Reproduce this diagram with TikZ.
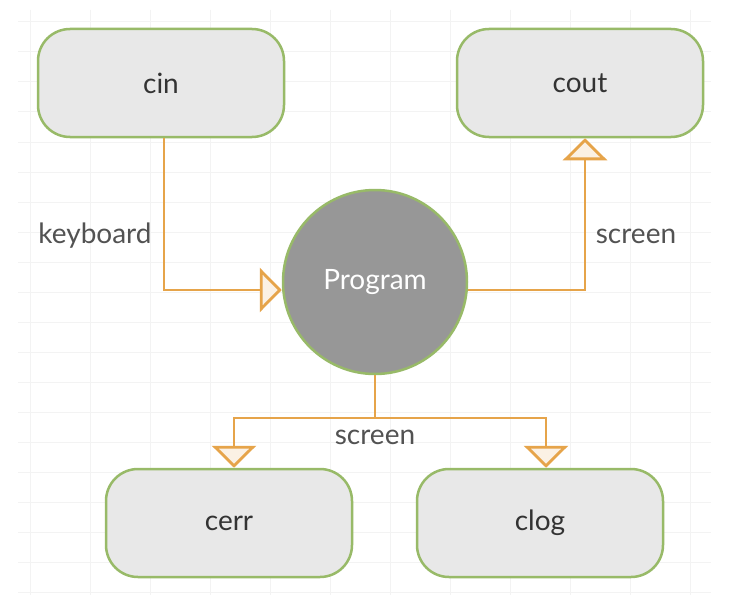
\documentclass[tikz,border=0pt]{standalone}
\usepackage{fontspec}
\setmainfont{Lato}
\usetikzlibrary{arrows.meta}
\definecolor{boxfill}{HTML}{E8E8E8}
\definecolor{boxline}{HTML}{98BA68}
\definecolor{conn}{HTML}{E6A44A}
\definecolor{circfill}{HTML}{979797}
\definecolor{gridc}{HTML}{F3F3F3}
\begin{document}
\begin{tikzpicture}[x=1pt,y=-1pt,
  box/.style={draw=boxline, line width=2.5pt, fill=boxfill, rounded corners=32pt,
    minimum width=246pt, minimum height=108pt, font=\fontsize{28}{32}\selectfont, text=black!80},
  prog/.style={circle, draw=boxline, line width=2.5pt, fill=circfill, minimum size=184pt,
    font=\fontsize{28}{32}\selectfont, text=white},
  conn/.style={draw=conn, line width=2.8pt},
  tip/.style={-{Triangle[open, length=22pt, width=44pt, fill=conn!15]}},
  lbl/.style={font=\fontsize{28}{32}\selectfont, text=black!68}]
\useasboundingbox (0,0) rectangle (729,602);
\fill[white] (0,0) rectangle (729,602);
\foreach \y in {22,52,82,112,142,172,202,232,262,292,322,352,382,412,442,472,502,532,562,592}
  \draw[gridc, line width=1pt] (18,\y) -- (711,\y);
\foreach \x in {30,90,150,210,270,330,390,450,510,570,630,690}
  \draw[gridc, line width=1pt] (\x,10) -- (\x,595);
\node[box] (cin) at (161,83) {cin};
\node[box] (cout) at (580,83) {cout};
\node[prog] (prog) at (375,282) {Program};
\node[box] (cerr) at (229,523) {cerr};
\node[box] (clog) at (540,523) {clog};
\coordinate (j) at (375,418);
\draw[conn, tip] (cin.south -| 164,0) |- (prog.west |- 0,290);
\draw[conn, tip] (prog.east |- 0,290) -| (cout.south -| 585,0);
\draw[conn] (prog.south) -- (j);
\draw[conn, tip] (j) -| (cerr.north -| 234,0);
\draw[conn, tip] (j) -| (clog.north -| 546,0);
\node[lbl] (l1) at (95,236) {keyboard};
\node[lbl] (l2) at (636,236) {screen};
\node[lbl] (l3) at (375,437) {screen};
\end{tikzpicture}
\end{document}
